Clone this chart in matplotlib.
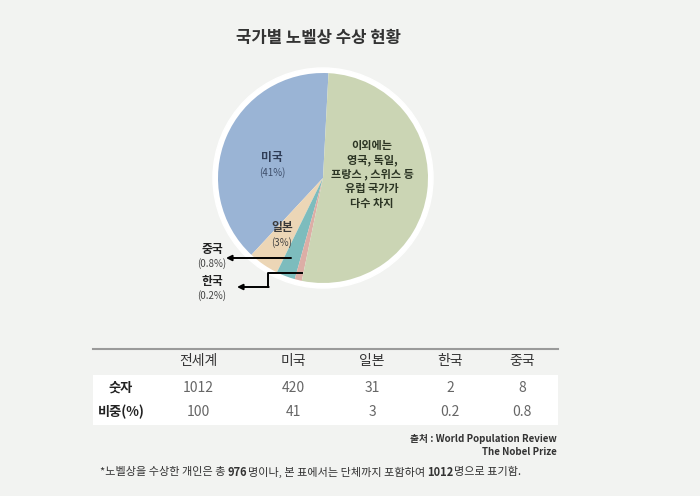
import matplotlib
matplotlib.use("Agg")
import matplotlib.pyplot as plt
from matplotlib.lines import Line2D
from matplotlib.patches import Circle, Rectangle

plt.rcParams["font.family"] = ["Noto Sans CJK KR", "DejaVu Sans"]

# pie shares as drawn in the picture (small slices are drawn enlarged)
pie_names = ["미국", "일본", "중국", "한국", "기타"]
pie_shares = [38.9, 4.7, 2.9, 1.1, 52.4]
pie_colors = ["#9ab4d5", "#ecd6b6", "#7dbcbd", "#dcaea6", "#cbd5b4"]

# table
col_names = ["전세계", "미국", "일본", "한국", "중국"]
counts = ["1012", "420", "31", "2", "8"]
shares = ["100", "41", "3", "0.2", "0.8"]

W, H = 700, 496
BG = "#f2f3f1"

fig = plt.figure(figsize=(W / 100, H / 100), dpi=100, facecolor=BG)


def px(x, y):
    return x / W, 1 - y / H


def ftext(x, y, s, **kw):
    fig.text(*px(x, y), s, **kw)


ftext(318, 38, "국가별 노벨상 수상 현황", ha="center", va="center",
      fontsize=12, fontweight="bold", color="#333333")

# pie axes: 1 unit = 100 px, center at (323, 178)
cx, cy = 323, 178
ax = fig.add_axes([(cx - 115) / W, 1 - (cy + 115) / H, 230 / W, 230 / H])
ax.add_patch(Circle((0, 0), 1.10, color="white", zorder=0))
ax.pie(pie_shares, colors=pie_colors, startangle=87, counterclock=True,
       radius=1.05, wedgeprops=dict(linewidth=0))
ax.set_xlim(-1.15, 1.15)
ax.set_ylim(-1.15, 1.15)
ax.set_aspect("equal")
ax.axis("off")

# labels on the pie
ftext(272, 158, "미국", ha="center", va="center", fontsize=8.5,
      fontweight="bold", color="#2f3d57")
ftext(272, 173, "(41%)", ha="center", va="center", fontsize=7, color="#3e4e6a")
other_lines = ["이외에는", "영국, 독일,", "프랑스 , 스위스 등", "유럽 국가가", "다수 차지"]
for i, line in enumerate(other_lines):
    ftext(372, 145 + i * 14.6, line, ha="center", va="center", fontsize=8,
          fontweight="bold", color="#2c3524")
ftext(282, 228, "일본", ha="center", va="center", fontsize=8.5,
      fontweight="bold", color="#3a3a3a")
ftext(282, 243, "(3%)", ha="center", va="center", fontsize=7, color="#444444")

ftext(212, 249, "중국", ha="center", va="center", fontsize=8.5,
      fontweight="bold", color="#222222")
ftext(212, 264, "(0.8%)", ha="center", va="center", fontsize=7, color="#444444")
ftext(212, 281, "한국", ha="center", va="center", fontsize=8.5,
      fontweight="bold", color="#222222")
ftext(212, 296, "(0.2%)", ha="center", va="center", fontsize=7, color="#444444")

arrow = dict(arrowstyle="-|>", color="black", lw=1.4, mutation_scale=8,
             shrinkA=0, shrinkB=0)
ax.annotate("", xy=px(226, 258), xytext=px(291, 258),
            xycoords="figure fraction", textcoords="figure fraction",
            arrowprops=arrow)
xs = [302, 268, 268]
ys = [273, 273, 287]
fig.lines.append(Line2D([x / W for x in xs], [1 - y / H for y in ys],
                        transform=fig.transFigure, color="black", lw=1.4))
ax.annotate("", xy=px(237, 287), xytext=px(268.7, 287),
            xycoords="figure fraction", textcoords="figure fraction",
            arrowprops=arrow)

# table
fig.lines.append(Line2D([93 / W, 558 / W], [1 - 349 / H] * 2,
                        transform=fig.transFigure, color="#9a9a9a", lw=1.5))
x0, y0 = px(93, 425)
fig.patches.append(Rectangle((x0, y0), 465 / W, 50 / H, transform=fig.transFigure,
                             facecolor="white", edgecolor="none"))
col_x = [198, 293, 372, 450, 522]
for x, name in zip(col_x, col_names):
    ftext(x, 361, name, ha="center", va="center", fontsize=10, color="#333333")
ftext(121, 388, "숫자", ha="center", va="center", fontsize=9.5,
      fontweight="bold", color="#222222")
ftext(121, 412, "비중(%)", ha="center", va="center", fontsize=9.5,
      fontweight="bold", color="#222222")
for x, c, s in zip(col_x, counts, shares):
    ftext(x, 388, c, ha="center", va="center", fontsize=10, color="#666666")
    ftext(x, 412, s, ha="center", va="center", fontsize=10, color="#666666")

# source
ftext(557, 439, "출처 : World Population Review", ha="right", va="center",
      fontsize=7, fontweight="bold", color="#333333")
ftext(557, 452, "The Nobel Prize", ha="right", va="center",
      fontsize=7, fontweight="bold", color="#333333")

# footnote with bold numbers
parts = [("*노벨상을 수상한 개인은 총 ", "normal"), ("976", "bold"),
         ("명이나, 본 표에서는 단체까지 포함하여 ", "normal"), ("1012", "bold"),
         ("명으로 표기함.", "normal")]
renderer = fig.canvas.get_renderer()
x = 100
for s, w in parts:
    t = fig.text(*px(x, 472), s, ha="left", va="center", fontsize=8,
                 fontweight=w, color="#333333")
    x += t.get_window_extent(renderer).width

fig.savefig("out.png", dpi=100, facecolor=BG)
